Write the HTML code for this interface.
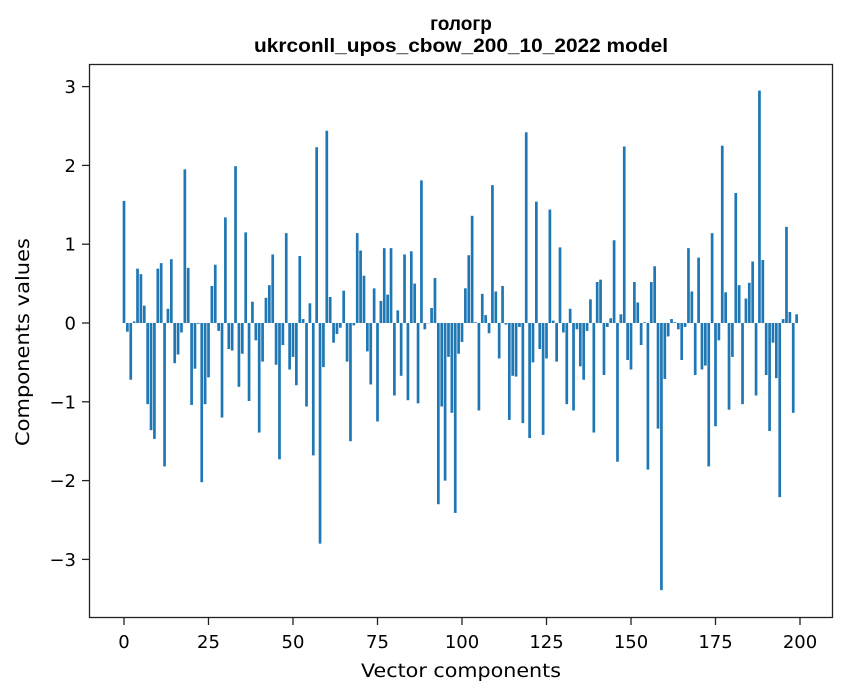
<!DOCTYPE html>
<html><head><meta charset="utf-8"><style>
body{margin:0;background:#fff;font-family:"DejaVu Sans","Liberation Sans",sans-serif;}
</style></head><body>
<svg id="chart" width="847" height="696" xmlns="http://www.w3.org/2000/svg" font-family="DejaVu Sans, Liberation Sans, sans-serif">
<rect width="847" height="696" fill="#fff"/>
<text x="461" y="30" text-anchor="middle" font-size="19" font-weight="bold" font-family="Liberation Sans, sans-serif">гологр</text>
<text x="461" y="52" text-anchor="middle" font-size="19" font-weight="bold" font-family="Liberation Sans, sans-serif" textLength="414" lengthAdjust="spacingAndGlyphs">ukrconll_upos_cbow_200_10_2022 model</text>
<g id="bars"></g>
<rect x="89.5" y="64.5" width="743" height="553" fill="none" stroke="#222" stroke-width="1.3"/>
<g id="xticks"></g>
<g id="yticks"></g>
<text x="461" y="677" text-anchor="middle" font-size="19" textLength="200" lengthAdjust="spacingAndGlyphs">Vector components</text>
<text transform="translate(29,342) rotate(-90)" text-anchor="middle" font-size="19" textLength="208" lengthAdjust="spacingAndGlyphs">Components values</text>
</svg>
<script>
const values = [1.55,-0.11,-0.72,0.02,0.69,0.62,0.22,-1.03,-1.36,-1.47,
0.69,0.76,-1.82,0.18,0.81,-0.51,-0.40,-0.12,1.95,0.70,
-1.04,-0.58,-0.01,-2.02,-1.03,-0.69,0.47,0.74,-0.10,-1.20,
1.34,-0.33,-0.35,1.99,-0.81,-0.39,1.15,-0.99,0.27,-0.22,
-1.39,-0.49,0.32,0.48,0.87,-0.53,-1.73,-0.28,1.14,-0.59,
-0.43,-0.79,0.85,0.05,-1.06,0.25,-1.68,2.23,-2.80,-0.56,
2.44,0.33,-0.25,-0.14,-0.06,0.41,-0.49,-1.50,-0.03,1.14,
0.92,0.60,-0.36,-0.78,0.44,-1.25,0.28,0.95,0.36,0.95,
-0.92,0.16,-0.67,0.87,-0.98,0.91,0.50,-1.02,1.81,-0.08,
0,0.19,0.57,-2.30,-1.06,-2.00,-0.43,-1.14,-2.41,-0.39,
-0.24,0.44,0.86,1.36,0.01,-1.11,0.37,0.10,-0.13,1.75,
0.40,-0.45,0.47,-0.02,-1.23,-0.67,-0.68,-0.05,-1.27,2.42,
-1.46,-0.50,1.54,-0.33,-1.42,-0.45,1.44,0.03,-0.49,0.96,
-0.12,-1.03,0.18,-1.11,-0.08,-0.55,-0.72,-0.10,0.30,-1.39,
0.52,0.55,-0.66,-0.05,0.06,1.05,-1.76,0.11,2.24,-0.47,
-0.59,0.52,0.26,-0.28,0.01,-1.86,0.52,0.72,-1.34,-3.39,
-0.71,-0.17,0.05,0.01,-0.08,-0.47,-0.05,0.95,0.40,-0.66,
0.83,-0.59,-0.54,-1.82,1.14,-1.31,-0.22,2.25,0.39,-1.10,
-0.43,1.65,0.48,-1.03,0.31,0.51,0.78,-0.92,2.95,0.80,
-0.66,-1.37,-0.25,-0.70,-2.21,0.05,1.22,0.14,-1.14,0.11];
const xTicks = [0,25,50,75,100,125,150,175,200];
const yTicks = [-3,-2,-1,0,1,2,3];
const yTickLabels = ["\u22123","\u22122","\u22121","0","1","2","3"];
const NS="http://www.w3.org/2000/svg";
function xs(i){return 124+3.38*i;}
function ys(v){return 323-78.8*v;}
const bars=document.getElementById('bars');
values.forEach((v,i)=>{
  const r=document.createElementNS(NS,'rect');
  
  
  const y0=ys(0),y1=ys(v);
  r.setAttribute('x',xs(i)-1.35);
  r.setAttribute('width',2.7);
  r.setAttribute('y',Math.min(y0,y1));
  r.setAttribute('height',Math.max(Math.abs(y1-y0),0.3));
  r.setAttribute('fill','#1f77b4');
  bars.appendChild(r);
});
const xg=document.getElementById('xticks');
xTicks.forEach(t=>{
  const l=document.createElementNS(NS,'line');
  
  
  l.setAttribute('x1',xs(t));l.setAttribute('x2',xs(t));
  l.setAttribute('y1',618);l.setAttribute('y2',625);l.setAttribute('stroke','#222');l.setAttribute('stroke-width','1.3');
  xg.appendChild(l);
  const tx=document.createElementNS(NS,'text');
  
  
  tx.setAttribute('x',xs(t));tx.setAttribute('y',648);
  tx.setAttribute('text-anchor','middle');tx.setAttribute('font-size','18');
  tx.textContent=t;
  xg.appendChild(tx);
});
const yg=document.getElementById('yticks');
yTicks.forEach((t,k)=>{
  const l=document.createElementNS(NS,'line');
  
  
  l.setAttribute('x1',82);l.setAttribute('x2',89);
  l.setAttribute('y1',ys(t));l.setAttribute('y2',ys(t));l.setAttribute('stroke','#222');l.setAttribute('stroke-width','1.3');
  yg.appendChild(l);
  const tx=document.createElementNS(NS,'text');
  
  
  tx.setAttribute('x',76);tx.setAttribute('y',ys(t)+6.5);
  tx.setAttribute('text-anchor','end');tx.setAttribute('font-size','18');
  tx.textContent=yTickLabels[k];
  yg.appendChild(tx);
});
</script>
</body></html>
